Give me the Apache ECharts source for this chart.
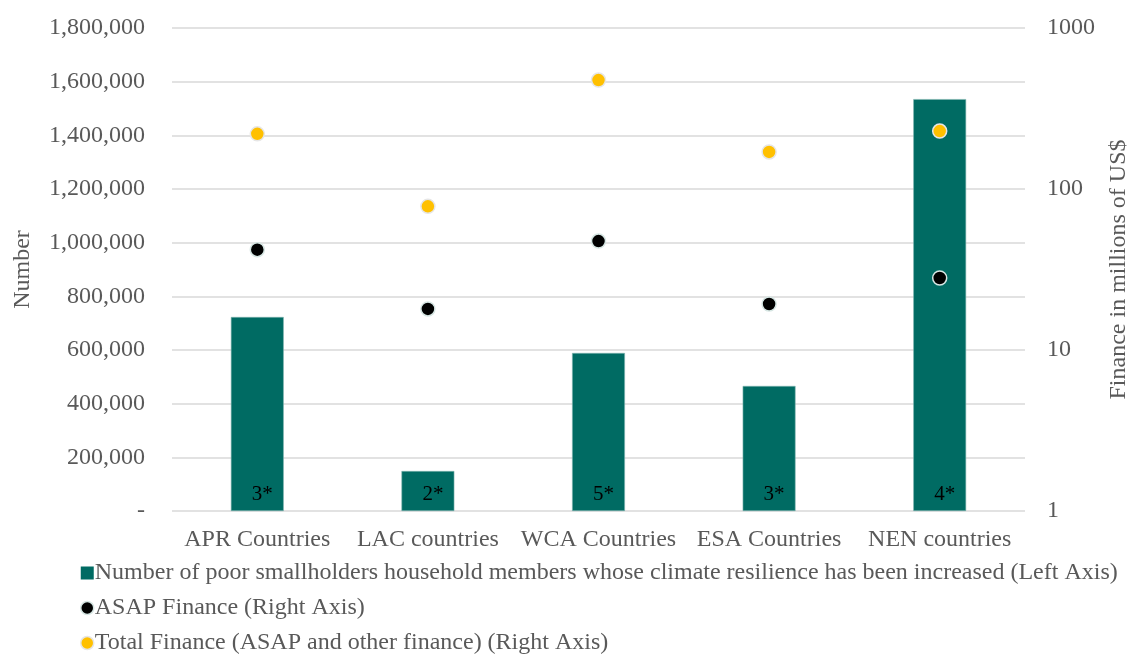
<!DOCTYPE html>
<html>
<head>
<meta charset="utf-8">
<script src="https://cdn.jsdelivr.net/npm/echarts@6/dist/echarts.min.js"></script>
<style>
  html, body { margin: 0; padding: 0; background: #fff; }
  #chart { width: 1130px; height: 657px; }
</style>
</head>
<body>
<div id="chart"></div>
<script>
// Regions
const categories = ['APR Countries', 'LAC countries', 'WCA Countries', 'ESA Countries', 'NEN countries'];
// Poor smallholder household members with increased climate resilience (left axis)
const householdMembers = [723000, 149000, 589000, 466000, 1535000];
// Number of projects per region, shown inside each bar
const projectCounts = ['3*', '2*', '5*', '3*', '4*'];
// Finance in millions of US$ (right axis, log scale)
const asapFinance = [42, 18, 47.5, 19.3, 28];
const totalFinance = [220, 78, 475, 170, 229];

const seriesNames = [
  'Number of poor smallholders household members whose climate resilience has been increased (Left Axis)',
  'ASAP Finance (Right Axis)',
  'Total Finance (ASAP and other finance) (Right Axis)'
];

const FONT = '"Liberation Serif", "Times New Roman", serif';
const GREY = '#595959';
const TEAL = '#006B63';

const chart = echarts.init(document.getElementById('chart'), null, { renderer: 'canvas' });

chart.setOption({
  animation: false,
  textStyle: { fontFamily: FONT },
  grid: { left: 172, right: 105, top: 28, bottom: 146, containLabel: false, outerBoundsMode: 'none' },
  legend: {
    orient: 'vertical',
    left: 80,
    top: 561,
    padding: 0,
    itemGap: 11,
    itemWidth: 13,
    itemHeight: 13,
    textStyle: { fontFamily: FONT, fontSize: 24, lineHeight: 24, color: GREY, padding: [0, 0, 0, -4] },
    data: [
      { name: seriesNames[0], icon: 'rect', itemStyle: { color: TEAL, borderWidth: 0 } },
      { name: seriesNames[1], icon: 'circle', itemStyle: { color: '#000', borderColor: '#d6e6e3', borderWidth: 1.5, opacity: 1 } },
      { name: seriesNames[2], icon: 'circle', itemStyle: { color: '#FFC000', borderColor: '#e6e6e6', borderWidth: 1.5, opacity: 1 } }
    ]
  },
  xAxis: {
    type: 'category',
    data: categories,
    axisLine: { show: false },
    axisTick: { show: false },
    axisLabel: { color: GREY, fontFamily: FONT, fontSize: 24, margin: 17, interval: 0 }
  },
  yAxis: [
    {
      type: 'value',
      min: 0,
      max: 1800000,
      interval: 200000,
      name: 'Number',
      nameLocation: 'middle',
      nameGap: 137,
      nameTextStyle: { color: GREY, fontFamily: FONT, fontSize: 24 },
      axisLine: { show: false },
      axisTick: { show: false },
      axisLabel: {
        color: GREY, fontFamily: FONT, fontSize: 24, margin: 27,
        formatter: v => v === 0 ? '-' : v.toLocaleString('en-US')
      },
      splitLine: { lineStyle: { color: '#d9d9d9', width: 1.5 } }
    },
    {
      type: 'log',
      logBase: 10,
      min: 1,
      max: 1000,
      name: 'Finance in millions of US$',
      nameLocation: 'middle',
      nameGap: 82,
      nameRotate: 90,
      nameTextStyle: { color: GREY, fontFamily: FONT, fontSize: 24 },
      axisLine: { show: false },
      axisTick: { show: false },
      axisLabel: { color: GREY, fontFamily: FONT, fontSize: 24, margin: 22, formatter: v => String(v) },
      splitLine: { show: false }
    }
  ],
  series: [
    {
      name: seriesNames[0],
      type: 'bar',
      yAxisIndex: 0,
      data: householdMembers,
      barWidth: '31%',
      itemStyle: { color: TEAL, borderColor: '#7fb5b0', borderWidth: 0.6 },
      label: {
        show: true,
        position: 'insideBottom',
        distance: 6,
        offset: [5, 0],
        color: '#000',
        fontFamily: FONT,
        fontSize: 21,
        formatter: p => projectCounts[p.dataIndex]
      },
      z: 1
    },
    {
      name: seriesNames[1],
      type: 'scatter',
      yAxisIndex: 1,
      data: asapFinance,
      symbol: 'circle',
      symbolSize: 14,
      itemStyle: { color: '#000000', borderColor: '#d6e6e3', borderWidth: 1.5, opacity: 1 },
      z: 3
    },
    {
      name: seriesNames[2],
      type: 'scatter',
      yAxisIndex: 1,
      data: totalFinance,
      symbol: 'circle',
      symbolSize: 14,
      itemStyle: { color: '#FFC000', borderColor: '#e6e6e6', borderWidth: 1.5, opacity: 1 },
      z: 3
    }
  ]
});
</script>
</body>
</html>
